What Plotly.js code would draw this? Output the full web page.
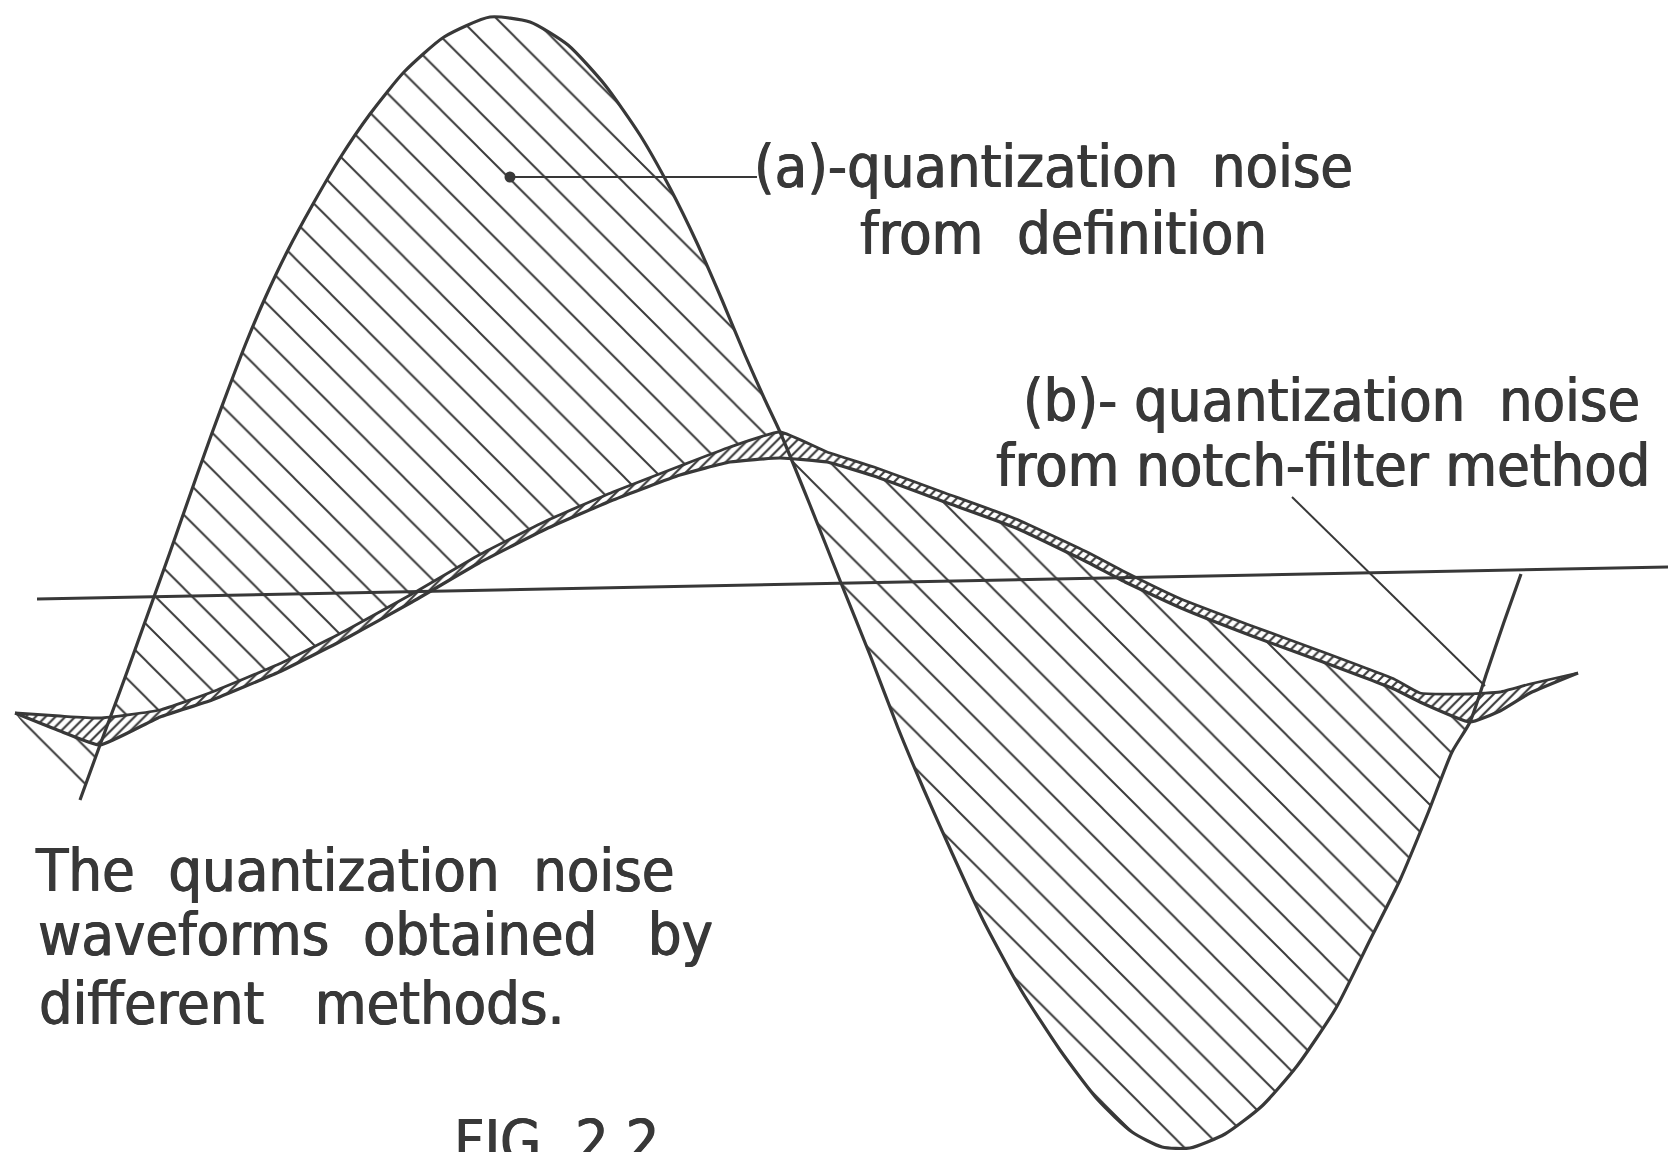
<!DOCTYPE html>
<html>
<head>
<meta charset="utf-8">
<script src="https://cdn.plot.ly/plotly-3.0.1.min.js"></script>
<style>
  html, body { margin: 0; padding: 0; background: #ffffff; }
  #fig { width: 1668px; height: 1152px; }
</style>
</head>
<body>
<div id="fig"></div>
<script>
// Time positions and levels (vertical axis runs downward) of the sketched waveforms.

// (a) quantization noise from definition
const noiseDefT = [80, 100, 113, 127, 141, 155, 169, 183, 197, 212, 228, 246, 266, 288, 313, 340, 370, 404, 444, 490,
  530, 568, 605, 640, 670, 697, 722, 745, 765, 780, 810, 841, 870, 898, 924, 952, 983, 1021, 1060, 1098,
  1132, 1162, 1190, 1225, 1262, 1297, 1336, 1370, 1400, 1428, 1452, 1470, 1487, 1504, 1521];
const noiseDefV = [800, 745, 710, 672, 633, 594, 555, 515, 475, 433, 390, 343, 296, 250, 204, 158, 114, 72, 37, 17,
  22, 45, 85, 135, 188, 243, 300, 355, 400, 432, 505, 583, 655, 728, 790, 853, 920, 990, 1050, 1100,
  1132, 1147, 1148, 1134, 1106, 1066, 1008, 940, 880, 813, 752, 722, 672, 622, 574];

// (b) quantization noise from notch-filter method: upper and lower edge of the traced band
const notchT = [15, 60, 100, 160, 212, 279, 345, 412, 479, 546, 613, 680, 730, 780, 827, 874, 945, 1016, 1087, 1125,
  1181, 1252, 1323, 1394, 1420, 1470, 1500, 1530, 1578];
const notchUpper = [713, 716, 718, 710, 692, 664, 631, 594, 555, 521, 492, 466, 447, 432, 452, 467, 493, 519, 552, 572,
  599, 626, 652, 679, 693, 694, 692, 684, 673];
const notchLower = [713, 731, 745, 717, 700, 672, 639, 602, 563, 529, 500, 475, 462, 458, 462, 476, 502, 528, 562, 582,
  608, 636, 662, 689, 702, 722, 711, 693, 673];

// zero (time) axis
const axisT = [37, 1668];
const axisV = [599, 567];

// leader lines for the two labels
const leaderAT = [510, 757];
const leaderAV = [177, 177];
const leaderBT = [1292, 1485];
const leaderBV = [497, 686];

// text labels: left edge, baseline
const labelText = [
  '(a)-quantization\u00a0\u00a0noise',
  'from\u00a0\u00a0definition',
  '(b)-\u00a0quantization\u00a0\u00a0noise',
  'from\u00a0notch-filter\u00a0method',
  'The\u00a0\u00a0quantization\u00a0\u00a0noise',
  'waveforms\u00a0\u00a0obtained\u00a0\u00a0\u00a0by',
  'different\u00a0\u00a0\u00a0methods.',
  'FIG\u00a0\u00a02.2'
];
const labelT = [752, 858, 1021, 994, 33, 36, 37, 452];
const labelBase = [188, 255, 422, 487, 892, 956, 1025, 1163];

const W = 1668, H = 1152;
const ink = '#383838';
const font = 'DejaVu Sans Condensed, DejaVu Sans, sans-serif';

// region enclosed between (a) and (b): (a) up to its last meeting with (b), then (b) back
const joinT = 1470;
const hatchT = [], hatchV = [];
noiseDefT.forEach((t, i) => { if (t <= joinT) { hatchT.push(t); hatchV.push(noiseDefV[i]); } });
for (let i = notchT.length - 1; i >= 0; i--) {
  if (notchT[i] <= joinT) { hatchT.push(notchT[i]); hatchV.push(notchLower[i]); }
}

// band of (b): upper edge forward, lower edge back
const bandT = notchT.concat(notchT.slice().reverse());
const bandV = notchUpper.concat(notchLower.slice().reverse());

const traces = [
  {
    x: hatchT, y: hatchV, mode: 'lines', fill: 'toself',
    line: { width: 0, color: 'rgba(0,0,0,0)', shape: 'spline', smoothing: 0.6 },
    fillcolor: 'rgba(0,0,0,0)',
    fillpattern: { shape: '\\', size: 26, solidity: 0.075, fgcolor: ink, bgcolor: 'rgba(0,0,0,0)' },
    hoverinfo: 'skip'
  },
  {
    x: bandT, y: bandV, mode: 'lines', fill: 'toself',
    line: { width: 0, color: 'rgba(0,0,0,0)' },
    fillcolor: '#ffffff',
    fillpattern: { shape: '/', size: 7, solidity: 0.3, fgcolor: ink, bgcolor: '#ffffff' },
    hoverinfo: 'skip'
  },
  { x: axisT, y: axisV, mode: 'lines', line: { color: ink, width: 3 }, hoverinfo: 'skip' },
  { x: notchT, y: notchUpper, mode: 'lines', line: { color: ink, width: 2.8, shape: 'spline', smoothing: 0.4 }, hoverinfo: 'skip' },
  { x: notchT, y: notchLower, mode: 'lines', line: { color: ink, width: 3.2, shape: 'spline', smoothing: 0.4 }, hoverinfo: 'skip' },
  { x: noiseDefT, y: noiseDefV, mode: 'lines', line: { color: ink, width: 3.2, shape: 'spline', smoothing: 0.6 }, hoverinfo: 'skip' },
  { x: leaderAT, y: leaderAV, mode: 'lines', line: { color: ink, width: 2 }, hoverinfo: 'skip' },
  { x: [leaderAT[0]], y: [leaderAV[0]], mode: 'markers', marker: { color: ink, size: 11 }, hoverinfo: 'skip' },
  { x: leaderBT, y: leaderBV, mode: 'lines', line: { color: ink, width: 2 }, hoverinfo: 'skip' }
];

const annotations = labelText.map((txt, i) => ({
  text: txt,
  x: labelT[i] / W, y: 1 - (labelBase[i] + 15) / H,
  xref: 'paper', yref: 'paper',
  xanchor: 'left', yanchor: 'bottom',
  showarrow: false,
  font: { family: font, size: 59, color: ink, shadow: '0.6px 0 0 ' + ink + ', -0.6px 0 0 ' + ink }
}));

const layout = {
  width: W, height: H,
  margin: { l: 0, r: 0, t: 0, b: 0 },
  paper_bgcolor: '#ffffff', plot_bgcolor: '#ffffff',
  showlegend: false,
  xaxis: { range: [0, W], visible: false, fixedrange: true },
  yaxis: { range: [H, 0], visible: false, fixedrange: true },
  annotations: annotations
};

Plotly.newPlot('fig', traces, layout, { staticPlot: true, displayModeBar: false });
</script>
</body>
</html>
